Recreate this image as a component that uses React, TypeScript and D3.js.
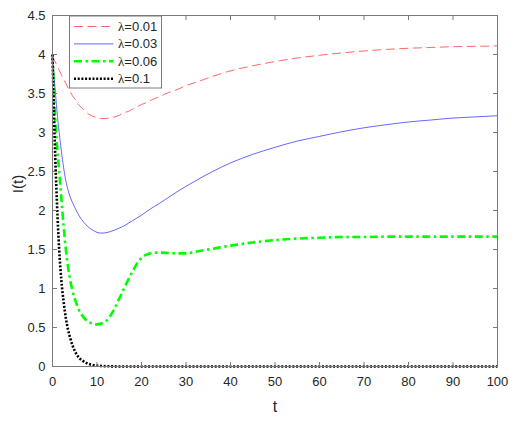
import { useEffect, useRef } from 'react';
import * as d3 from 'd3';

const tValues = [0, 0.5, 1, 1.5, 2, 2.5, 3, 3.5, 4, 4.5, 5, 6, 7, 8, 9, 10, 11, 12, 13, 14, 15, 16, 17, 18, 19, 20, 21, 22, 24, 26, 28, 30, 32, 34, 36, 40, 45, 50, 55, 60, 65, 70, 75, 80, 85, 90, 95, 100];

const lambda001 = [3.98, 3.92, 3.86, 3.80, 3.74, 3.68, 3.63, 3.57, 3.52, 3.47, 3.43, 3.35, 3.29, 3.24, 3.21, 3.19, 3.18, 3.18, 3.19, 3.20, 3.22, 3.25, 3.27, 3.30, 3.33, 3.36, 3.38, 3.41, 3.46, 3.51, 3.55, 3.60, 3.64, 3.68, 3.72, 3.79, 3.855, 3.91, 3.955, 3.99, 4.02, 4.045, 4.065, 4.08, 4.09, 4.10, 4.105, 4.11];
const lambda003 = [4.0, 3.62, 3.28, 3.0, 2.76, 2.55, 2.38, 2.26, 2.17, 2.1, 2.04, 1.93, 1.85, 1.79, 1.75, 1.72, 1.71, 1.715, 1.73, 1.75, 1.775, 1.80, 1.835, 1.87, 1.905, 1.94, 1.98, 2.02, 2.09, 2.165, 2.24, 2.31, 2.375, 2.44, 2.50, 2.61, 2.72, 2.81, 2.89, 2.95, 3.01, 3.06, 3.10, 3.135, 3.16, 3.185, 3.20, 3.215];
const lambda006 = [4.0, 3.3, 2.85, 2.5, 2.15, 1.8, 1.5, 1.27, 1.1, 0.97, 0.87, 0.72, 0.63, 0.575, 0.55, 0.54, 0.55, 0.58, 0.65, 0.75, 0.87, 0.99, 1.11, 1.22, 1.32, 1.39, 1.43, 1.45, 1.46, 1.455, 1.45, 1.45, 1.47, 1.49, 1.51, 1.55, 1.59, 1.62, 1.64, 1.65, 1.66, 1.66, 1.665, 1.665, 1.665, 1.665, 1.665, 1.665];
const lambda01 = [4.0, 2.9, 2.1, 1.5, 1.1, 0.83, 0.62, 0.47, 0.36, 0.27, 0.2, 0.11, 0.065, 0.035, 0.02, 0.012, 0.007, 0.004, 0.002, 0.001, 0, 0, 0, 0, 0, 0, 0, 0, 0, 0, 0, 0, 0, 0, 0, 0, 0, 0, 0, 0, 0, 0, 0, 0, 0, 0, 0, 0];

const seriesNames = ['0.01', '0.03', '0.06', '0.1'];
const xTicks = [0, 10, 20, 30, 40, 50, 60, 70, 80, 90, 100];
const yTicks = [0, 0.5, 1, 1.5, 2, 2.5, 3, 3.5, 4, 4.5];

export default function App() {
  const svgRef = useRef<SVGSVGElement>(null);
  const width = 526;
  const height = 424;

  useEffect(() => {
    if (!svgRef.current) return;
    const svg = d3.select(svgRef.current);
    svg.selectAll('*').remove();

    const margin = { top: 15.5, right: 28.5, bottom: 57.5, left: 52.5 };
    const plotW = width - margin.left - margin.right;
    const plotH = height - margin.top - margin.bottom;

    const x = d3.scaleLinear().domain([0, 100]).range([0, plotW]);
    const y = d3.scaleLinear().domain([0, 4.5]).range([plotH, 0]);

    const g = svg.append('g').attr('transform', `translate(${margin.left},${margin.top})`);

    const styles = [
      { data: lambda001, color: '#ff0000', width: 0.6, dash: '9,4.5' },
      { data: lambda003, color: '#0000ff', width: 0.6, dash: null },
      { data: lambda006, color: '#00ff00', width: 2.6, dash: '8,3.5,2.5,3.5' },
      { data: lambda01, color: '#000000', width: 2.6, dash: '2,1.7' },
    ];

    const line = d3.line<number>()
      .x((d, i) => x(tValues[i]))
      .y((d) => y(d))
      .curve(d3.curveMonotoneX);

    styles.forEach((s) => {
      g.append('path')
        .datum(s.data)
        .attr('fill', 'none')
        .attr('stroke', s.color)
        .attr('stroke-width', s.width)
        .attr('stroke-dasharray', s.dash)
        .attr('d', line);
    });

    // box + inward ticks
    const axisColor = '#7a7a7a';
    g.append('rect')
      .attr('x', 0).attr('y', 0)
      .attr('width', plotW).attr('height', plotH)
      .attr('fill', 'none')
      .attr('stroke', axisColor)
      .attr('stroke-width', 1);

    const tickLen = 4.5;
    xTicks.forEach((t) => {
      g.append('line').attr('x1', x(t)).attr('x2', x(t)).attr('y1', plotH).attr('y2', plotH - tickLen)
        .attr('stroke', axisColor);
      g.append('line').attr('x1', x(t)).attr('x2', x(t)).attr('y1', 0).attr('y2', tickLen)
        .attr('stroke', axisColor);
      g.append('text')
        .attr('x', x(t)).attr('y', plotH + 19)
        .attr('text-anchor', 'middle')
        .style('font-family', 'Liberation Sans, Arial, sans-serif')
        .style('font-size', '13px')
        .style('fill', '#262626')
        .text(t);
    });
    yTicks.forEach((v) => {
      g.append('line').attr('x1', 0).attr('x2', tickLen).attr('y1', y(v)).attr('y2', y(v))
        .attr('stroke', axisColor);
      g.append('line').attr('x1', plotW).attr('x2', plotW - tickLen).attr('y1', y(v)).attr('y2', y(v))
        .attr('stroke', axisColor);
      g.append('text')
        .attr('x', -7).attr('y', y(v) + 4.5)
        .attr('text-anchor', 'end')
        .style('font-family', 'Liberation Sans, Arial, sans-serif')
        .style('font-size', '13px')
        .style('fill', '#262626')
        .text(String(v));
    });

    g.append('text')
      .attr('x', plotW / 2).attr('y', plotH + 45)
      .attr('text-anchor', 'middle')
      .style('font-family', 'Liberation Sans, Arial, sans-serif')
      .style('font-size', '16px')
      .style('fill', '#262626')
      .text('t');

    g.append('text')
      .attr('transform', 'rotate(-90)')
      .attr('x', -plotH / 2 + 7).attr('y', -30)
      .attr('text-anchor', 'middle')
      .style('font-family', 'Liberation Sans, Arial, sans-serif')
      .style('font-size', '15px')
      .style('fill', '#262626')
      .text('I(t)');

    // legend
    const leg = g.append('g').attr('transform', 'translate(17,0.5)');
    leg.append('rect')
      .attr('x', 0).attr('y', 0).attr('width', 92).attr('height', 72)
      .attr('fill', '#ffffff')
      .attr('stroke', axisColor)
      .attr('stroke-width', 1);
    styles.forEach((s, i) => {
      const ly = 10.5 + i * 17.4;
      leg.append('line')
        .attr('x1', 4.5).attr('x2', 44)
        .attr('y1', ly).attr('y2', ly)
        .attr('stroke', s.color)
        .attr('stroke-width', s.width)
        .attr('stroke-dasharray', s.dash);
      const txt = leg.append('text')
        .attr('x', 48.5).attr('y', ly + 4.5)
        .style('font-family', 'Liberation Sans, Arial, sans-serif')
        .style('font-size', '13px')
        .style('fill', '#262626');
      txt.append('tspan').style('font-family', 'Liberation Serif, Times New Roman, serif').text('λ');
      txt.append('tspan').text(`=${seriesNames[i]}`);
    });
  }, []);

  return (
    <svg
      ref={svgRef}
      width={width}
      height={height}
      style={{ position: 'absolute', left: 0, top: 0, background: '#ffffff' }}
    />
  );
}
